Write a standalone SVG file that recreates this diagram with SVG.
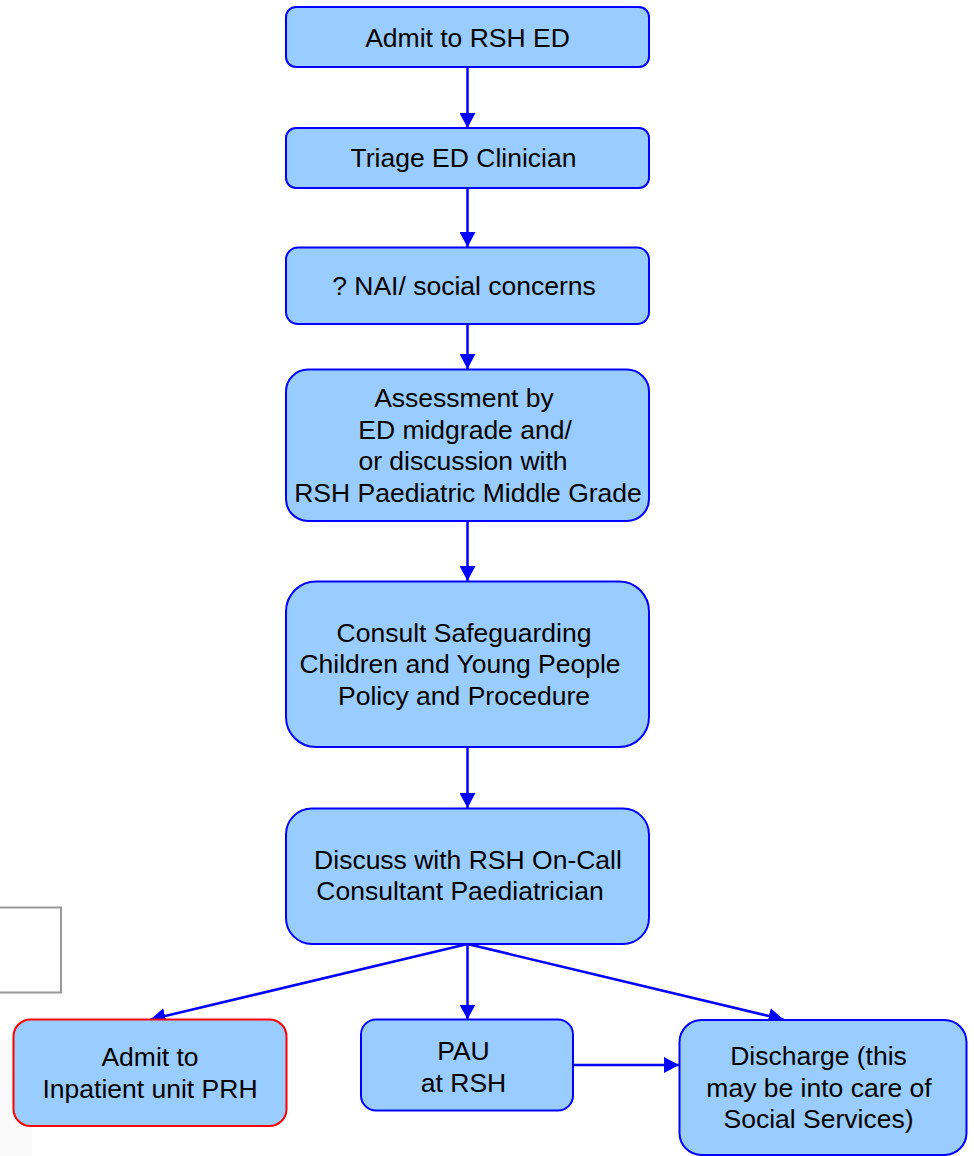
<svg xmlns="http://www.w3.org/2000/svg" width="974" height="1156" viewBox="0 0 974 1156">
  <style>
    .node { fill: #99CCFF; stroke: #0000FF; stroke-width: 2; }
    .red { stroke: #FF0000; }
    .lbl { font-family: "Liberation Sans", Arial, sans-serif; font-size: 26.5px; fill: #000000; text-anchor: middle; }
    .conn { stroke: #0000FF; stroke-width: 2.5; fill: none; marker-end: url(#arr); }
  </style>
  <defs>
    <marker id="arr" markerUnits="userSpaceOnUse" markerWidth="16" markerHeight="16" refX="15" refY="8" orient="auto">
      <path d="M0,0 L15,8 L0,16 z" fill="#0000FF"/>
    </marker>
  </defs>
  <rect width="974" height="1156" fill="#FFFFFF"/>
  <rect x="0" y="1040" width="32" height="116" fill="#FAFAFA"/>
  <g id="greybox">
    <rect x="-2" y="907.5" width="63" height="85" fill="none" stroke="#999999" stroke-width="2"/>
  </g>

  <g id="connectors">
    <line class="conn" x1="467.5" y1="67" x2="467.5" y2="128"/>
    <line class="conn" x1="467.5" y1="188" x2="467.5" y2="247"/>
    <line class="conn" x1="467.5" y1="324" x2="467.5" y2="369"/>
    <line class="conn" x1="467.5" y1="521" x2="467.5" y2="581"/>
    <line class="conn" x1="467.5" y1="747" x2="467.5" y2="808"/>
    <line class="conn" x1="467.5" y1="944" x2="150.5" y2="1019.5"/>
    <line class="conn" x1="467.5" y1="944" x2="467.5" y2="1019.5"/>
    <line class="conn" x1="467.5" y1="944" x2="783.5" y2="1019.5"/>
    <line class="conn" x1="573" y1="1065" x2="679" y2="1065"/>
  </g>

  <g id="n1">
    <rect class="node" x="286" y="7" width="363" height="60" rx="10"/>
    <text class="lbl" x="467.5" y="46.5">Admit to RSH ED</text>
  </g>
  <g id="n2">
    <rect class="node" x="286" y="128" width="363" height="60" rx="10"/>
    <text class="lbl" x="463.5" y="167">Triage ED Clinician</text>
  </g>
  <g id="n3">
    <rect class="node" x="286" y="247.5" width="363" height="76.5" rx="12"/>
    <text class="lbl" x="464" y="295">? NAI/ social concerns</text>
  </g>
  <g id="n4">
    <rect class="node" x="286" y="369.5" width="363" height="151.5" rx="22"/>
    <text class="lbl" x="464" y="407">Assessment by</text>
    <text class="lbl" x="465" y="438.5">ED midgrade and/</text>
    <text class="lbl" x="463" y="470">or discussion with</text>
    <text class="lbl" x="468" y="501.5">RSH Paediatric Middle Grade</text>
  </g>
  <g id="n5">
    <rect class="node" x="286" y="581.5" width="363" height="165.5" rx="30"/>
    <text class="lbl" x="464" y="641.5">Consult Safeguarding</text>
    <text class="lbl" x="460" y="673">Children and Young People</text>
    <text class="lbl" x="464" y="705">Policy and Procedure</text>
  </g>
  <g id="n6">
    <rect class="node" x="286" y="808.5" width="363" height="135.5" rx="26"/>
    <text class="lbl" x="468" y="868.5">Discuss with RSH On-Call</text>
    <text class="lbl" x="460" y="900">Consultant Paediatrician</text>
  </g>
  <g id="n7">
    <rect class="node red" x="13.5" y="1019.5" width="273" height="106.5" rx="17"/>
    <text class="lbl" x="150" y="1066">Admit to</text>
    <text class="lbl" x="150" y="1098">Inpatient unit PRH</text>
  </g>
  <g id="n8">
    <rect class="node" x="361" y="1019.5" width="212" height="91" rx="15"/>
    <text class="lbl" x="463.5" y="1059.5">PAU</text>
    <text class="lbl" x="463.5" y="1091.5">at RSH</text>
  </g>
  <g id="n9">
    <rect class="node" x="679.5" y="1020" width="287" height="135" rx="22"/>
    <text class="lbl" x="818.5" y="1065">Discharge (this</text>
    <text class="lbl" x="819" y="1096.5">may be into care of</text>
    <text class="lbl" x="818.5" y="1128">Social Services)</text>
  </g>
</svg>
